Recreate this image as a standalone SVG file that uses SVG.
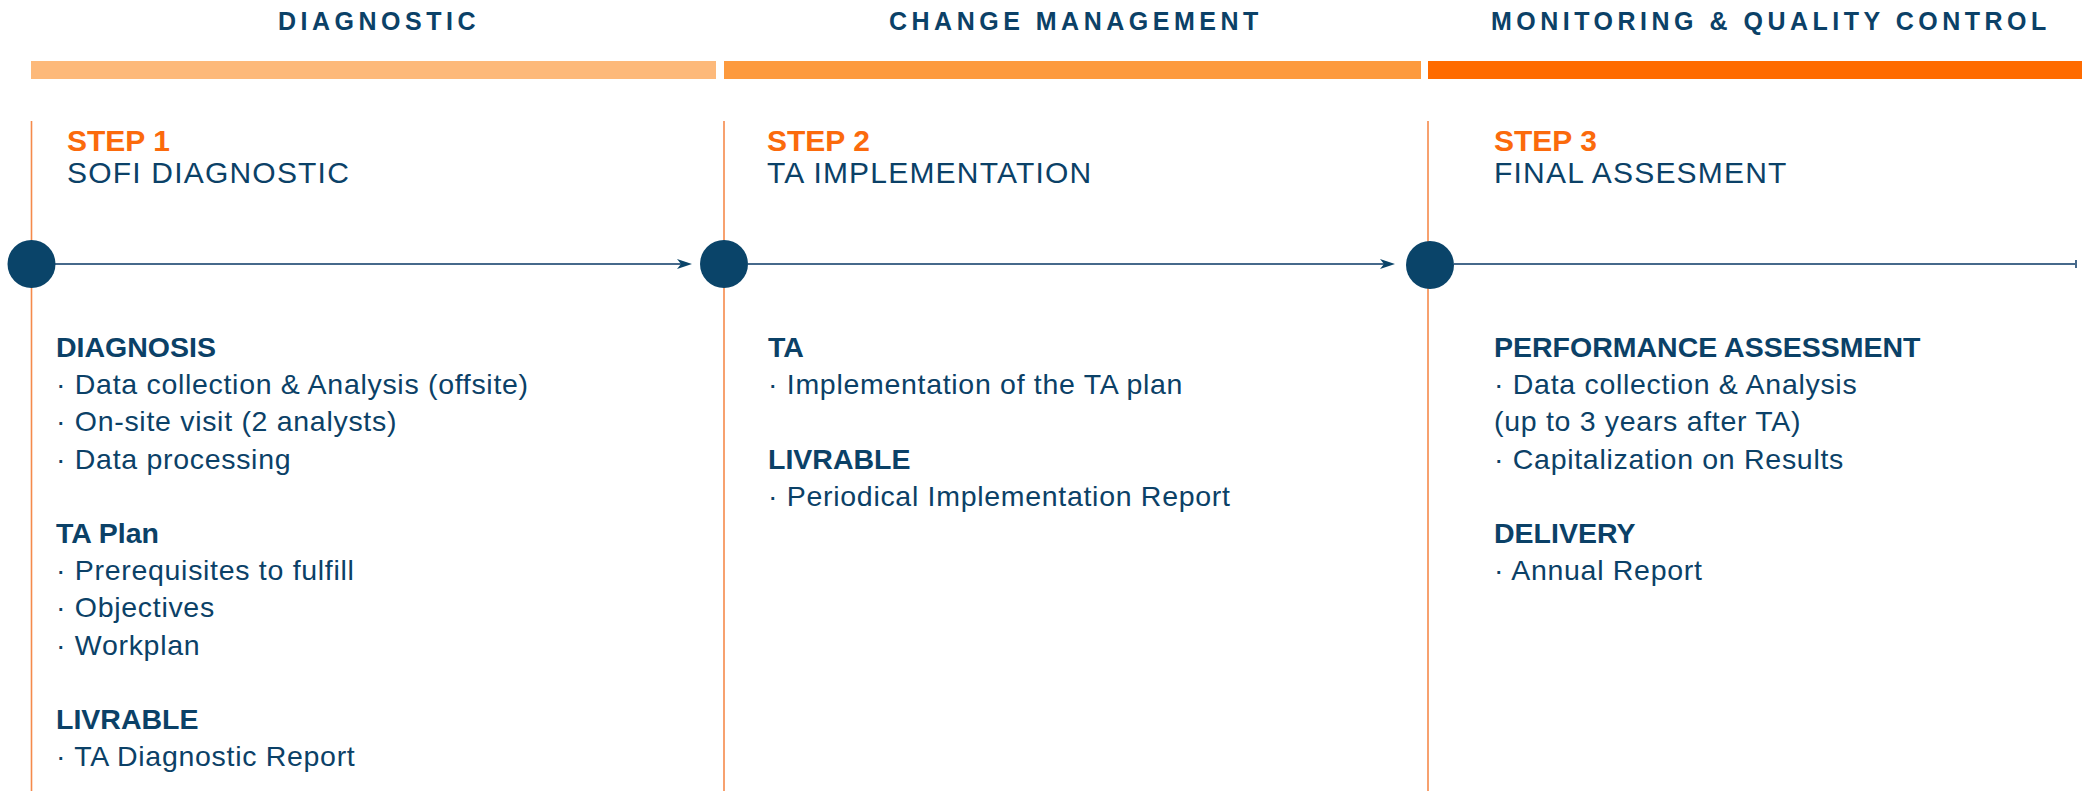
<svg xmlns="http://www.w3.org/2000/svg" width="2089" height="791" viewBox="0 0 2089 791">
<defs>
<style>
.hdr{font-family:"Liberation Sans",Arial,sans-serif;font-weight:bold;font-size:25px;letter-spacing:4.5px;fill:#0b4167}
.step{font-family:"Liberation Sans",Arial,sans-serif;font-weight:bold;font-size:30px;fill:#fb6a0c}
.title{font-family:"Liberation Sans",Arial,sans-serif;font-size:30px;letter-spacing:1.2px;fill:#0b4167}
.h{font-family:"Liberation Sans",Arial,sans-serif;font-weight:bold;font-size:28.5px;fill:#0b4167}
.b{font-family:"Liberation Sans",Arial,sans-serif;font-size:28.5px;letter-spacing:0.7px;fill:#0b4167}
.vline{stroke:#f58a4b;stroke-width:1.6;fill:none}
.conn{stroke:#46698b;stroke-width:2.2;fill:none}
.dot{fill:#0a4469}
</style>
<marker id="arr" markerUnits="userSpaceOnUse" viewBox="0 0 16 10" markerWidth="16" markerHeight="10" refX="7" refY="5" orient="auto">
<path d="M0,0 L15,5 L0,10 L4,5 z" fill="#0a4469"/>
</marker>
<marker id="tick" markerUnits="userSpaceOnUse" viewBox="0 0 2 8" markerWidth="2" markerHeight="8" refX="1" refY="4" orient="auto">
<rect x="0" y="0" width="2" height="8" fill="#46698b"/>
</marker>
</defs>
<rect width="2089" height="791" fill="#ffffff"/>

<g id="phases">
<rect x="31" y="61" width="685" height="18" fill="#fdb97a"/>
<rect x="724" y="61" width="697" height="18" fill="#fd9a3e"/>
<rect x="1428" y="61" width="654" height="18" fill="#ff6b00"/>
<text class="hdr" x="278" y="30">DIAGNOSTIC</text>
<text class="hdr" x="889" y="30">CHANGE MANAGEMENT</text>
<text class="hdr" x="1491" y="30">MONITORING &amp; QUALITY CONTROL</text>
</g>

<g id="dividers">
<line class="vline" x1="31.5" y1="121" x2="31.5" y2="791"/>
<line class="vline" x1="724" y1="121" x2="724" y2="791"/>
<line class="vline" x1="1428" y1="121" x2="1428" y2="791"/>
</g>

<g id="connectors">
<line class="conn" x1="55" y1="264" x2="684" y2="264" marker-end="url(#arr)"/>
<line class="conn" x1="748" y1="264" x2="1387" y2="264" marker-end="url(#arr)"/>
<line class="conn" x1="1454" y1="264" x2="2076" y2="264" marker-end="url(#tick)"/>
</g>

<g id="step1">
<circle class="dot" cx="31.5" cy="264" r="24"/>
<text class="step" x="67" y="151">STEP 1</text>
<text class="title" x="67" y="183">SOFI DIAGNOSTIC</text>
<text class="h" x="56" y="357">DIAGNOSIS</text>
<text class="b" x="56" y="394.2">· Data collection &amp; Analysis (offsite)</text>
<text class="b" x="56" y="431.4">· On-site visit (2 analysts)</text>
<text class="b" x="56" y="468.6">· Data processing</text>
<text class="h" x="56" y="543">TA Plan</text>
<text class="b" x="56" y="580.2">· Prerequisites to fulfill</text>
<text class="b" x="56" y="617.4">· Objectives</text>
<text class="b" x="56" y="654.6">· Workplan</text>
<text class="h" x="56" y="729">LIVRABLE</text>
<text class="b" x="56" y="766.2">· TA Diagnostic Report</text>
</g>

<g id="step2">
<circle class="dot" cx="724" cy="264" r="24"/>
<text class="step" x="767" y="151">STEP 2</text>
<text class="title" x="767" y="183">TA IMPLEMENTATION</text>
<text class="h" x="768" y="357">TA</text>
<text class="b" x="768" y="394.2">· Implementation of the TA plan</text>
<text class="h" x="768" y="468.6">LIVRABLE</text>
<text class="b" x="768" y="505.8">· Periodical Implementation Report</text>
</g>

<g id="step3">
<circle class="dot" cx="1430" cy="265" r="24"/>
<text class="step" x="1494" y="151">STEP 3</text>
<text class="title" x="1494" y="183">FINAL ASSESMENT</text>
<text class="h" x="1494" y="357">PERFORMANCE ASSESSMENT</text>
<text class="b" x="1494" y="394.2">· Data collection &amp; Analysis</text>
<text class="b" x="1494" y="431.4">(up to 3 years after TA)</text>
<text class="b" x="1494" y="468.6">· Capitalization on Results</text>
<text class="h" x="1494" y="543">DELIVERY</text>
<text class="b" x="1494" y="580.2">· Annual Report</text>
</g>
</svg>
